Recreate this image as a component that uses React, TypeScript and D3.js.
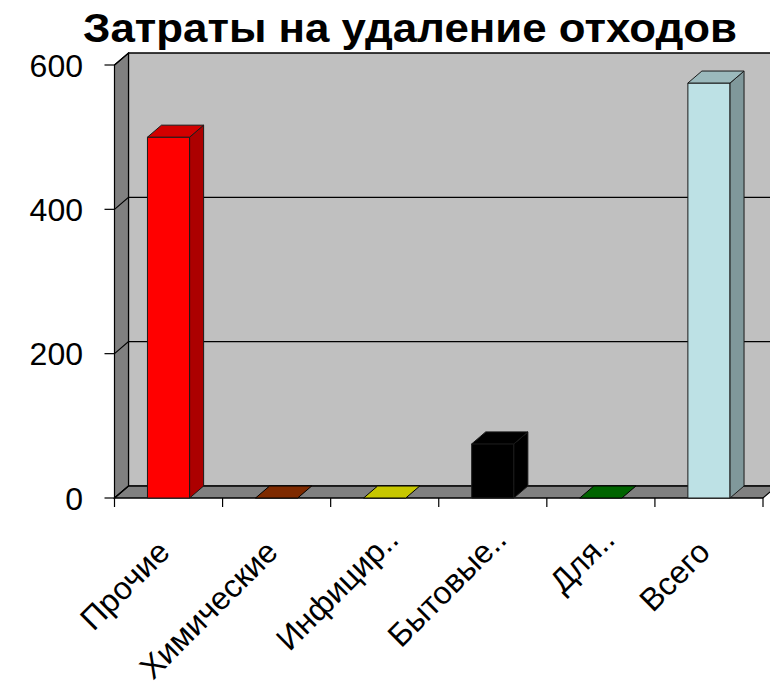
import React from "react";
import * as d3 from "d3";

const categories = ["Прочие", "Химические", "Инфицир..", "Бытовые..", "Для..", "Всего"];
const values = [500, 0, 0, 75, 0, 575];
const colors = ["#ff0000", "#993300", "#f2f200", "#000000", "#007a00", "#bde1e5"];
const yTicks = [0, 200, 400, 600];
const title = "Затраты на удаление отходов";

const W = 770;
const H = 690;
// Oblique depth offset of the 3D walls and bars
const DX = 14;
const DY = -12;

const FONT = "'Liberation Sans', Arial, sans-serif";

export default function App() {
  const x = d3.scaleBand<string>().domain(categories).range([114.5, 763]).paddingInner(0).paddingOuter(0);
  const y = d3.scaleLinear().domain([0, 600]).range([498, 65]);

  const x0 = 114.5;
  const x1 = 763;
  const yb = y(0);
  const yt = y(600);
  const barW = x.bandwidth() * 0.39;

  const pts = (p: [number, number][]) => p.map((q) => q.join(",")).join(" ");

  const backWall = pts([
    [x0 + DX, yt + DY],
    [x1 + DX, yt + DY],
    [x1 + DX, yb + DY],
    [x0 + DX, yb + DY],
  ]);
  const sideWall = pts([
    [x0, yt],
    [x0 + DX, yt + DY],
    [x0 + DX, yb + DY],
    [x0, yb],
  ]);
  const floor = pts([
    [x0, yb],
    [x0 + DX, yb + DY],
    [x1 + DX, yb + DY],
    [x1, yb],
  ]);

  const tickXs = d3.range(categories.length + 1).map((i) => x0 + i * x.step());

  return (
    <svg
      width={W}
      height={H}
      style={{ position: "absolute", left: 0, top: 0, background: "#fff" }}
      fontFamily={FONT}
    >
      <text
        x={410}
        y={42}
        textAnchor="middle"
        fontSize={41}
        fontWeight="bold"
        fill="#000"
        textLength={654}
        lengthAdjust="spacingAndGlyphs"
      >
        {title}
      </text>

      {/* walls and floor */}
      <polygon points={backWall} fill="#c0c0c0" stroke="#000" strokeWidth={1.2} />
      <polygon points={sideWall} fill="#808080" stroke="#000" strokeWidth={1.2} />
      <polygon points={floor} fill="#808080" stroke="#000" strokeWidth={1.2} />

      {/* gridlines on side and back walls */}
      {yTicks.map((t) => (
        <polyline
          key={"g" + t}
          points={pts([
            [x0, y(t)],
            [x0 + DX, y(t) + DY],
            [x1 + DX, y(t) + DY],
          ])}
          fill="none"
          stroke="#000"
          strokeWidth={1.2}
        />
      ))}

      {/* value axis ticks and labels */}
      {yTicks.map((t) => (
        <g key={"y" + t}>
          <line x1={x0 - 10} x2={x0} y1={y(t)} y2={y(t)} stroke="#000" strokeWidth={1.2} />
          <text x={83} y={y(t)} dy="0.36em" textAnchor="end" fontSize={32} fill="#000">
            {t}
          </text>
        </g>
      ))}

      {/* category axis ticks */}
      {tickXs.map((tx, i) => (
        <line key={"c" + i} x1={tx} x2={tx} y1={yb} y2={yb + 9} stroke="#000" strokeWidth={1.2} />
      ))}
      <line x1={x0} x2={x1} y1={yb} y2={yb} stroke="#000" strokeWidth={1.2} />

      {/* 3D bars */}
      {categories.map((c, i) => {
        const cx = (x(c) as number) + x.bandwidth() / 2;
        const l = cx - barW / 2;
        const r = cx + barW / 2;
        const top = y(values[i]);
        const base = d3.color(colors[i])!;
        const front = base.formatHex();
        const topC = base.darker(0.55).formatHex();
        const sideC = base.darker(1.1).formatHex();
        const outline = values[i] === 0 ? "#000" : "#1a1a1a";
        return (
          <g key={c} stroke={outline} strokeWidth={1} strokeLinejoin="round">
            {values[i] > 0 && (
              <>
                <polygon points={pts([[l, top], [r, top], [r, yb], [l, yb]])} fill={front} />
                <polygon
                  points={pts([[r, top], [r + DX, top + DY], [r + DX, yb + DY], [r, yb]])}
                  fill={sideC}
                />
              </>
            )}
            <polygon
              points={pts([[l, top], [l + DX, top + DY], [r + DX, top + DY], [r, top]])}
              fill={topC}
            />
          </g>
        );
      })}

      {/* category labels; truncation dots run past the anchor */}
      {categories.map((c) => {
        const cx = (x(c) as number) + x.bandwidth() / 2;
        const m = c.match(/^(.*?)(\.+)$/);
        const word = m ? m[1] : c;
        const dots = m ? m[2] : "";
        const tr = `translate(${cx + 3},${yb + 56}) rotate(-45)`;
        return (
          <g key={"l" + c} transform={tr} fontSize={32} fill="#000">
            <text textAnchor="end">{word}</text>
            {dots && <text textAnchor="start">{dots}</text>}
          </g>
        );
      })}
    </svg>
  );
}
